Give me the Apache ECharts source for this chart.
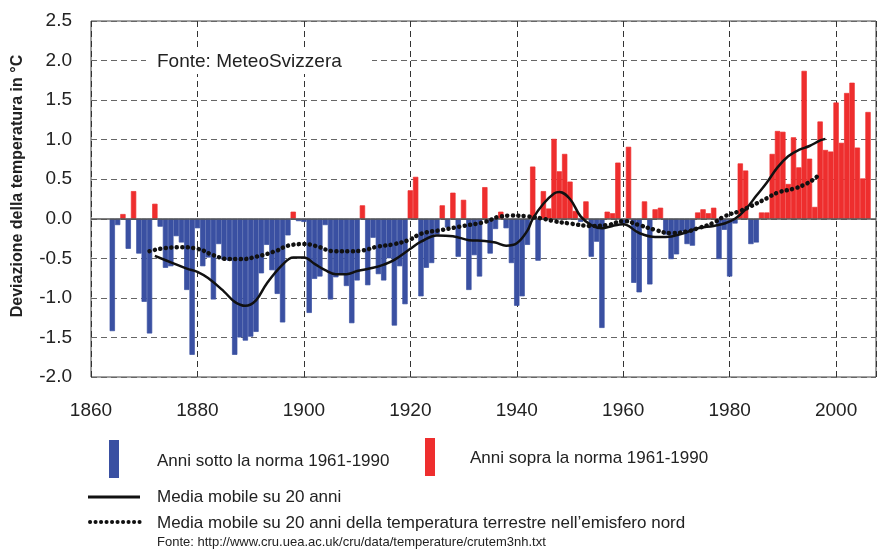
<!DOCTYPE html>
<html><head><meta charset="utf-8">
<script src="https://cdn.jsdelivr.net/npm/echarts@6/dist/echarts.min.js"></script>
<style>html,body{margin:0;padding:0;background:#fff}#c{width:877px;height:551px}</style>
</head><body><div id="c"></div>
<script>
// ---- data ----
const firstYear = 1864;
const anomalies = [
  -1.42, -0.08, 0.06, -0.38, 0.35, -0.44,                              // 1864-1869
  -1.05, -1.45, 0.19, -0.10, -0.62, -0.60, -0.22, -0.30, -0.90, -1.72, // 1870s
  -0.12, -0.60, -0.49, -1.02, -0.32, -0.52, -0.53, -1.72, -1.50, -1.54, // 1880s
  -1.49, -1.43, -0.69, -0.33, -0.65, -0.95, -1.31, -0.21, 0.09, -0.03,  // 1890s
  -0.04, -1.19, -0.76, -0.73, -0.08, -1.02, -0.74, -0.69, -0.85, -1.32, // 1900s
  -0.78, 0.17, -0.84, -0.24, -0.70, -0.78, -0.50, -1.35, -0.60, -1.08,  // 1910s
  0.36, 0.53, -0.98, -0.62, -0.56, -0.20, 0.17, -0.11, 0.33, -0.48,     // 1920s
  0.24, -0.90, -0.46, -0.73, 0.40, -0.44, -0.13, 0.09, -0.12, -0.56,    // 1930s
  -1.10, -0.98, -0.33, 0.66, -0.53, 0.35, 0.13, 1.01, 0.60, 0.82,       // 1940s
  0.47, 0.10, -0.04, 0.22, -0.48, -0.29, -1.38, 0.09, 0.07, 0.71,       // 1950s
  -0.06, 0.91, -0.81, -0.93, 0.22, -0.83, 0.12, 0.14, -0.20, -0.51,     // 1960s
  -0.45, -0.16, -0.32, -0.34, 0.08, 0.12, 0.07, 0.14, -0.51, -0.14,     // 1970s
  -0.73, -0.06, 0.70, 0.61, -0.32, -0.30, 0.08, 0.08, 0.82, 1.11,       // 1980s
  1.10, 0.44, 1.03, 0.65, 1.87, 0.76, 0.15, 1.23, 0.87, 0.85,           // 1990s
  1.47, 0.96, 1.59, 1.72, 0.90, 0.51, 1.35                              // 2000-2006
];
const maYears  = [1872,1875,1878,1880,1882,1885,1887,1889,1891,1893,1896,1898,1900,1902,1904,1906,1908,1910,1913,1915,1917,1920,1922,1925,1928,1931,1934,1936,1938,1940,1942,1943,1945,1947,1948,1950,1952,1954,1956,1958,1960,1963,1966,1968,1971,1974,1977,1979,1981,1983,1985,1987,1989,1991,1993,1995,1997,1998];
const maValues = [-0.47,-0.55,-0.63,-0.67,-0.75,-0.92,-1.05,-1.10,-1.03,-0.82,-0.58,-0.49,-0.49,-0.57,-0.65,-0.70,-0.70,-0.66,-0.62,-0.58,-0.52,-0.38,-0.29,-0.21,-0.22,-0.27,-0.28,-0.30,-0.34,-0.31,-0.15,0.00,0.19,0.32,0.34,0.25,0.03,-0.08,-0.12,-0.09,-0.07,-0.18,-0.23,-0.23,-0.19,-0.12,-0.09,-0.06,0.00,0.12,0.29,0.46,0.65,0.79,0.87,0.92,0.99,1.01];
const nhYears  = [1871,1874,1877,1880,1883,1886,1888,1891,1895,1897,1900,1902,1906,1909,1911,1914,1917,1920,1922,1926,1930,1934,1937,1939,1942,1945,1947,1950,1954,1957,1960,1963,1966,1969,1972,1974,1977,1979,1982,1984,1987,1989,1992,1994,1996,1997];
const nhValues = [-0.41,-0.37,-0.36,-0.38,-0.46,-0.51,-0.51,-0.48,-0.40,-0.34,-0.32,-0.34,-0.41,-0.41,-0.40,-0.35,-0.32,-0.26,-0.19,-0.14,-0.09,-0.04,0.03,0.04,0.03,0.00,-0.03,-0.06,-0.09,-0.08,-0.03,-0.08,-0.14,-0.18,-0.16,-0.12,-0.05,0.03,0.10,0.16,0.26,0.33,0.38,0.43,0.51,0.58];
const legendTexts = [
  'Anni sotto la norma 1961-1990',
  'Anni sopra la norma 1961-1990',
  'Media mobile su 20 anni',
  'Media mobile su 20 anni della temperatura terrestre nell\u2019emisfero nord',
  'Fonte: http://www.cru.uea.ac.uk/cru/data/temperature/crutem3nh.txt'
];
const sourceLabel = 'Fonte: MeteoSvizzera';
const yTitle = 'Deviazione della temperatura in \u00B0C';

// ---- styles ----
const BLUE = '#3A50A2';
const RED = '#EE2E2E';
const FONT = '"Liberation Sans", Arial, Helvetica, sans-serif';

const allBars = anomalies.map((v, i) => [firstYear + i, v]);
const belowData = allBars.filter(d => d[1] < 0);
const aboveData = allBars.filter(d => d[1] >= 0);
const maData = maYears.map((y, i) => [y, maValues[i]]);
const nhData = nhYears.map((y, i) => [y, nhValues[i]]);

const chart = echarts.init(document.getElementById('c'), null, {renderer: 'canvas'});
const txt = (x, y, text, size, extra, rot) => ({
  type: 'text', x: x, y: y, z: 100, rotation: rot || 0,
  style: Object.assign({text: text, fontSize: size, fontFamily: FONT, fill: '#222', textVerticalAlign: 'middle'}, extra || {})
});
const barSeries = (data, color, withZero) => {
  const s = {
    type: 'bar', data: data, barWidth: '100%', barGap: '-100%', z: 2,
    itemStyle: {color: color, borderColor: color, borderWidth: 0.7}
  };
  if (withZero) {
    s.markLine = {
      silent: true, symbol: ['none', 'none'], label: {show: false},
      lineStyle: {color: '#555', type: 'solid', width: 1.5},
      data: [{yAxis: 0}]
    };
  }
  return s;
};
chart.setOption({
  animation: false,
  backgroundColor: '#fff',
  grid: {left: 91, right: 1, top: 21, bottom: 174, show: true, borderColor: '#444', borderWidth: 1},
  xAxis: {
    type: 'value', min: 1860, max: 2007.5, interval: 20,
    axisLine: {show: false}, axisTick: {show: false},
    axisLabel: {fontSize: 19, color: '#222', fontFamily: FONT, margin: 24, showMaxLabel: false, formatter: v => String(v)},
    splitLine: {show: true, lineStyle: {type: [6, 4], color: '#333', width: 1}}
  },
  yAxis: {
    type: 'value', min: -2, max: 2.5, interval: 0.5,
    axisLine: {show: false}, axisTick: {show: false},
    axisLabel: {fontSize: 19, color: '#222', fontFamily: FONT, margin: 19, formatter: v => v.toFixed(1)},
    splitLine: {show: true, lineStyle: {type: [6, 4], color: '#666', width: 1}}
  },
  series: [
    barSeries(belowData, BLUE, true),
    barSeries(aboveData, RED, false),
    {
      type: 'line', data: maData, smooth: 0.4, showSymbol: false, z: 5,
      lineStyle: {color: '#111', width: 2.5}
    },
    {
      type: 'line', data: nhData, smooth: 0.5, showSymbol: false, z: 6,
      lineStyle: {color: '#111', width: 4.5, type: [0.1, 5.4], cap: 'round'}
    }
  ],
  graphic: [
    {type: 'rect', x: 146, y: 50, z: 90, shape: {width: 226, height: 24}, style: {fill: '#fff'}},
    txt(157, 62, sourceLabel, 19),
    txt(18, 186, yTitle, 16, {fontWeight: 'bold', textAlign: 'center'}, Math.PI / 2),
    {type: 'rect', x: 109, y: 440, z: 100, shape: {width: 10, height: 38}, style: {fill: BLUE}},
    txt(157, 461, legendTexts[0], 17),
    {type: 'rect', x: 425, y: 438, z: 100, shape: {width: 10, height: 38}, style: {fill: RED}},
    txt(470, 458, legendTexts[1], 17),
    {type: 'line', z: 100, shape: {x1: 88, y1: 497, x2: 140, y2: 497}, style: {stroke: '#111', lineWidth: 3}},
    txt(157, 497, legendTexts[2], 17),
    {type: 'line', z: 100, shape: {x1: 90, y1: 522, x2: 140, y2: 522}, style: {stroke: '#111', lineWidth: 4, lineDash: [0.1, 5.4], lineCap: 'round'}},
    txt(157, 523, legendTexts[3], 17),
    txt(157, 542, legendTexts[4], 13)
  ]
});
</script></body></html>
